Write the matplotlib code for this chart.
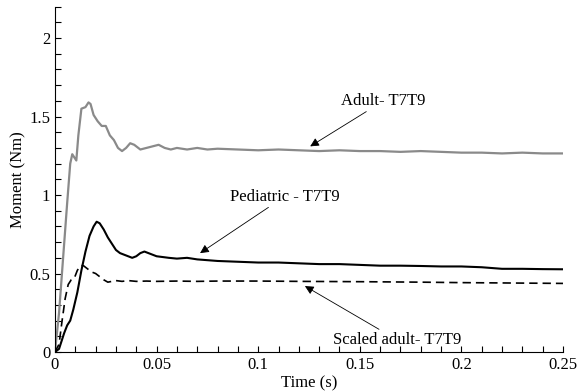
import matplotlib.pyplot as plt
from matplotlib.ticker import MultipleLocator

plt.rcParams['font.family'] = ['Liberation Serif', 'DejaVu Serif']

# Adult- T7T9 (grey)
t_adult = [0, 0.002, 0.004, 0.006, 0.0075, 0.0085, 0.0095, 0.0105, 0.0115, 0.013,
           0.015, 0.0165, 0.0175, 0.019, 0.021, 0.023, 0.025, 0.027, 0.029, 0.031,
           0.033, 0.035, 0.037, 0.039, 0.042, 0.045, 0.048, 0.051, 0.054, 0.057,
           0.06, 0.065, 0.07, 0.075, 0.08, 0.09, 0.1, 0.11, 0.12, 0.13, 0.14, 0.15,
           0.16, 0.17, 0.18, 0.19, 0.2, 0.21, 0.22, 0.23, 0.24, 0.25]
m_adult = [0, 0.25, 0.6, 0.95, 1.2, 1.26, 1.24, 1.22, 1.38, 1.55,
           1.56, 1.59, 1.58, 1.51, 1.47, 1.44, 1.44, 1.38, 1.35, 1.3,
           1.28, 1.30, 1.33, 1.32, 1.29, 1.30, 1.31, 1.32, 1.30, 1.29,
           1.30, 1.29, 1.30, 1.29, 1.295, 1.29, 1.285, 1.29, 1.285, 1.28, 1.285, 1.28,
           1.28, 1.275, 1.28, 1.275, 1.27, 1.27, 1.265, 1.27, 1.265, 1.265]

# Pediatric - T7T9 (black solid)
t_ped = [0, 0.002, 0.003, 0.0045, 0.006, 0.0075, 0.009, 0.011, 0.013, 0.015,
         0.017, 0.019, 0.0205, 0.022, 0.024, 0.026, 0.028, 0.030, 0.032, 0.034,
         0.036, 0.038, 0.040, 0.042, 0.044, 0.046, 0.048, 0.050, 0.053, 0.056,
         0.06, 0.065, 0.07, 0.075, 0.08, 0.09, 0.1, 0.11, 0.12, 0.13, 0.14, 0.15,
         0.16, 0.17, 0.18, 0.19, 0.2, 0.21, 0.22, 0.23, 0.24, 0.25]
m_ped = [0, 0.02, 0.06, 0.12, 0.17, 0.2, 0.27, 0.38, 0.52, 0.64,
         0.74, 0.80, 0.83, 0.82, 0.78, 0.73, 0.69, 0.65, 0.63, 0.62,
         0.61, 0.60, 0.61, 0.63, 0.64, 0.63, 0.62, 0.61, 0.605, 0.60,
         0.595, 0.60, 0.59, 0.585, 0.58, 0.575, 0.57, 0.57, 0.565, 0.56, 0.56, 0.555,
         0.55, 0.55, 0.548, 0.545, 0.545, 0.54, 0.53, 0.53, 0.528, 0.527]

# Scaled adult- T7T9 (black dashed)
t_scaled = [0, 0.002, 0.0035, 0.005, 0.0065, 0.008, 0.0095, 0.011, 0.0125, 0.014,
            0.016, 0.018, 0.020, 0.022, 0.024, 0.026, 0.028, 0.030, 0.033, 0.036,
            0.04, 0.045, 0.05, 0.06, 0.07, 0.08, 0.1, 0.12, 0.15, 0.18, 0.2, 0.22, 0.25]
m_scaled = [0, 0.05, 0.2, 0.34, 0.43, 0.46, 0.47, 0.52, 0.55, 0.55,
            0.53, 0.51, 0.50, 0.48, 0.46, 0.445, 0.45, 0.455, 0.45, 0.455,
            0.45, 0.452, 0.45, 0.452, 0.45, 0.452, 0.452, 0.45, 0.448, 0.445, 0.442, 0.44, 0.437]

fig = plt.figure(figsize=(5.77, 3.91), dpi=100)
ax = fig.add_axes([0.0953, 0.0997, 0.8804, 0.8833])

ax.plot(t_adult, m_adult, color='#8a8a8a', lw=1.6)
ax.plot(t_ped, m_ped, color='black', lw=1.5)
ax.plot(t_scaled, m_scaled, color='black', lw=1.2, linestyle=(0, (5, 3)))

ax.set_xlim(0, 0.25)
ax.set_ylim(0, 2.2)
ax.xaxis.set_minor_locator(MultipleLocator(0.01))
ax.yaxis.set_minor_locator(MultipleLocator(0.1))
ax.set_xticks([0, 0.05, 0.1, 0.15, 0.2, 0.25])
ax.set_xticklabels(['0', '0.05', '0.1', '0.15', '0.2', '0.25'])
ax.set_yticks([0, 0.5, 1, 1.5, 2])
ax.set_yticklabels(['0', '0.5', '1', '1.5', '2'])
ax.tick_params(which='both', direction='in', length=4, width=0.8, labelsize=12)
ax.spines['top'].set_visible(False)
ax.spines['right'].set_visible(False)

ax.set_xlabel('Time (s)', fontsize=12, labelpad=2)
ax.set_ylabel('Moment (Nm)', fontsize=12, labelpad=2)

arrow = dict(arrowstyle='-|>', color='black', lw=0.6, mutation_scale=13, shrinkA=0, shrinkB=0)
ax.annotate('Adult- T7T9', xy=(0.1256, 1.31), xytext=(0.141, 1.60),
            fontsize=12, va='center', ha='left', arrowprops=arrow)
ax.annotate('Pediatric - T7T9', xy=(0.0714, 0.63), xytext=(0.086, 0.99),
            fontsize=12, va='center', ha='left', arrowprops=arrow)
ax.annotate('Scaled adult- T7T9', xy=(0.123, 0.42), xytext=(0.137, 0.076),
            fontsize=12, va='center', ha='left', arrowprops=arrow)

fig.savefig('out.png', dpi=100)
